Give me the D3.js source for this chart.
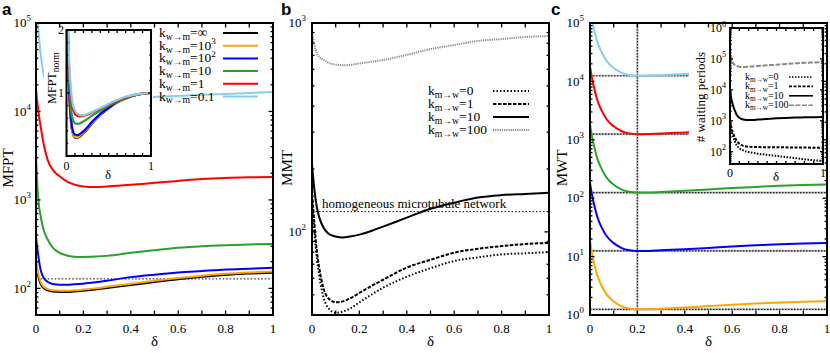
<!DOCTYPE html>
<html>
<head>
<meta charset="utf-8">
<script src="https://cdn.jsdelivr.net/npm/d3@7"></script>
<style>
  body { margin: 0; background: #fff; }
  svg { display: block; font-family: "Liberation Serif", "Times New Roman", serif; }
</style>
</head>
<body>
<svg id="fig" width="830" height="353"></svg>
<script>
// ---- data ----
var delta = [0, 0.01, 0.02, 0.03, 0.05, 0.07, 0.1, 0.13, 0.16, 0.2, 0.25, 0.3, 0.4, 0.5, 0.6, 0.7, 0.8, 0.9, 1]

// panel a: MFPT for k_w->m = inf, 10^3, 10^2, 10, 1, 0.1
var kwmLabels = [['\u221e', ''], ['10', '3'], ['10', '2'], ['10', ''], ['1', ''], ['0.1', '']]
var mfptInf = [190, 135, 112, 102, 95, 92, 91, 91, 92, 94, 97, 101, 109, 118, 127, 135, 142, 147, 150]
var mfpt1e3 = [210, 145, 118, 106, 98, 95, 94, 94, 95, 97, 100, 104, 113, 122, 131, 139, 146, 151, 155]
var mfpt1e2 = [380, 230, 160, 135, 118, 112, 110, 110, 111, 113, 117, 122, 134, 143, 151, 157, 163, 167, 171]
var mfpt10 = [3000, 1000, 650, 480, 355, 290, 252, 235, 228, 227, 229, 233, 252, 270, 288, 300, 308, 314, 318]
var mfpt1 = [18000, 10000, 6700, 4600, 2800, 2200, 1850, 1620, 1500, 1420, 1400, 1420, 1480, 1560, 1640, 1720, 1770, 1800, 1820]
var mfpt01 = [200000, 83000, 44000, 28000, 19000, 16000, 14500, 14000, 13800, 13700, 13800, 14000, 14300, 14600, 15000, 15400, 15800, 16200, 16600]
var mfptHomog = 128

// panel a inset: normalised MFPT
var normInf = [3.5, 2.2, 1.5, 1.05, 0.6, 0.38, 0.29, 0.29, 0.31, 0.36, 0.43, 0.51, 0.65, 0.76, 0.85, 0.91, 0.96, 0.99, 1]
var norm1e3 = [3.5, 2.2, 1.5, 1.05, 0.6, 0.39, 0.3, 0.3, 0.32, 0.37, 0.44, 0.52, 0.66, 0.77, 0.85, 0.91, 0.96, 0.99, 1]
var norm1e2 = [3.5, 2.3, 1.6, 1.1, 0.65, 0.43, 0.34, 0.33, 0.35, 0.39, 0.46, 0.54, 0.67, 0.77, 0.86, 0.92, 0.96, 0.99, 1]
var norm10 = [3.5, 2.4, 1.7, 1.25, 0.8, 0.6, 0.52, 0.51, 0.52, 0.55, 0.59, 0.64, 0.72, 0.8, 0.87, 0.92, 0.96, 0.99, 1]
var norm1 = [3.5, 2.6, 1.9, 1.45, 1.0, 0.78, 0.67, 0.64, 0.63, 0.64, 0.66, 0.69, 0.75, 0.82, 0.88, 0.93, 0.97, 0.99, 1]
var norm01 = [3.5, 2.7, 2.0, 1.55, 1.1, 0.85, 0.72, 0.67, 0.65, 0.65, 0.67, 0.7, 0.76, 0.83, 0.89, 0.94, 0.97, 0.99, 1]

// panel b: MMT for k_m->w = 0, 1, 10, 100
var kmwLabels = ['0', '1', '10', '100']
var mmt0 = [145, 100, 75, 62, 48, 43, 41, 41.5, 43, 46, 50, 54, 61, 67, 72.5, 75.5, 78, 79, 80]
var mmt1 = [160, 110, 82, 68, 53, 48, 46, 46.5, 48, 51, 55, 59, 67.5, 73.5, 79.5, 83, 85.5, 87.5, 88.5]
var mmt10 = [210, 160, 132, 118, 104, 98, 95, 94, 95, 97, 101, 106, 117, 129, 138, 146, 150, 152, 154]
var mmt100 = [900, 790, 720, 690, 665, 645, 632, 628, 630, 640, 652, 665, 703, 750, 785, 820, 838, 857, 866]
var mmtHomog = 125

// panel c: MWT for k_w->m = 10^3, 10^2, 10, 1, 0.1
var mwt1e3 = [18.5, 10.6, 7, 4.9, 3.1, 2.25, 1.7, 1.43, 1.3, 1.25, 1.25, 1.28, 1.34, 1.42, 1.5, 1.57, 1.63, 1.68, 1.72]
var mwt1e2 = [181, 106, 70, 49, 31, 22.5, 17, 14.3, 13, 12.5, 12.5, 12.8, 13.4, 14.1, 14.9, 15.6, 16.3, 16.8, 17.2]
var mwt10 = [1810, 1060, 700, 490, 312, 225, 170, 143, 130, 125, 125, 128, 134, 141, 149, 156, 163, 168, 172]
var mwt1 = [18100, 10600, 7000, 4900, 3120, 2250, 1700, 1430, 1300, 1250, 1260, 1280, 1340, 1400, 1460, 1520, 1580, 1630, 1680]
var mwt01 = [181000, 106000, 70000, 49000, 31200, 22500, 17000, 14300, 13000, 12500, 12600, 12800, 13400, 14100, 14900, 15600, 16300, 16800, 17200]
var mwtHomog = [1.25, 12.5, 125, 1250, 12500]
var deltaMark = 0.2

// panel c inset: number of waiting periods for k_m->w = 0, 1, 10, 100
var wait0 = [800, 560, 420, 330, 220, 165, 130, 115, 105, 98, 91, 86, 79, 73, 67, 62, 57, 53, 50]
var wait1 = [1000, 700, 520, 420, 300, 230, 180, 160, 150, 145, 142, 141, 140, 139, 138, 137, 136, 135, 134]
var wait10 = [9000, 6000, 4300, 3300, 2200, 1600, 1250, 1120, 1070, 1050, 1060, 1090, 1150, 1200, 1240, 1270, 1290, 1310, 1320]
var wait100 = [350000, 130000, 90000, 75000, 65000, 60000, 56000, 55000, 55000, 56000, 57000, 59000, 62000, 65000, 69000, 72000, 75000, 77000, 79000]

var xTickVals = d3.range(0, 1.0001, 0.1)
var xLabelVals = [0, 0.2, 0.4, 0.6, 0.8, 1]

// ---- styles ----
var kColors = ['#000000', '#ffa500', '#0000ff', '#2ca02c', '#ff0000', '#87ceeb']
var kmwStyles = [
  { color: '#000', dash: '1.5,2' },
  { color: '#000', dash: '3.5,1.5' },
  { color: '#000', dash: null },
  { color: '#8a8a8a', dash: '1.2,1' }
]
var waitStyles = [
  { color: '#000', dash: '1.5,1.5' },
  { color: '#000', dash: '3,1.5' },
  { color: '#000', dash: null },
  { color: '#8a8a8a', dash: '5,1.5' }
]

var svg = d3.select('#fig')
var clipN = 0

function makePanel (p) {
  var x = d3.scaleLinear().domain([0, 1]).range([p.left, p.right])
  var y = (p.log ? d3.scaleLog() : d3.scaleLinear()).domain(p.yDomain).range([p.bottom, p.top])
  var id = 'clip' + (clipN++)
  svg.append('clipPath').attr('id', id).append('rect')
    .attr('x', p.left).attr('y', p.top)
    .attr('width', p.right - p.left).attr('height', p.bottom - p.top)
  var g = svg.append('g')
  var plot = g.append('g').attr('clip-path', 'url(#' + id + ')')
  return { p: p, x: x, y: y, g: g, plot: plot }
}

function drawCurve (pn, values, style) {
  var line = d3.line()
    .x(function (d, i) { return pn.x(delta[i]) })
    .y(function (d) { return pn.y(d) })
    .curve(d3.curveMonotoneX)
  pn.plot.append('path').datum(values)
    .attr('d', line)
    .attr('fill', 'none')
    .attr('stroke', style.color)
    .attr('stroke-width', style.width || 2)
    .attr('stroke-dasharray', style.dash || null)
    .attr('stroke-linejoin', 'round')
}

function hLine (pn, v, x0, style) {
  pn.plot.append('line')
    .attr('x1', pn.x(x0)).attr('x2', pn.x(1))
    .attr('y1', pn.y(v)).attr('y2', pn.y(v))
    .attr('stroke', style.color).attr('stroke-width', style.width)
    .attr('stroke-dasharray', style.dash)
}

function logTicks (lo, hi) {
  var out = []
  for (var e = Math.floor(Math.log10(lo)); e <= Math.ceil(Math.log10(hi)); e++) {
    for (var m = 1; m < 10; m++) {
      var v = m * Math.pow(10, e)
      if (v >= lo * 0.999 && v <= hi * 1.001) out.push({ v: v, major: m === 1 })
    }
  }
  return out
}

function drawFrame (pn, yTicks, len) {
  var p = pn.p
  var g = svg.append('g')
  var t = g.append('g').attr('stroke', '#000').attr('stroke-width', 1.3)
  xTickVals.forEach(function (v) {
    var xx = pn.x(v)
    t.append('line').attr('x1', xx).attr('x2', xx).attr('y1', p.bottom).attr('y2', p.bottom - len)
    t.append('line').attr('x1', xx).attr('x2', xx).attr('y1', p.top).attr('y2', p.top + len)
  })
  yTicks.forEach(function (d) {
    var yy = pn.y(d.v)
    var l = d.major ? len : len * 0.55
    t.append('line').attr('x1', p.left).attr('x2', p.left + l).attr('y1', yy).attr('y2', yy)
    t.append('line').attr('x1', p.right).attr('x2', p.right - l).attr('y1', yy).attr('y2', yy)
  })
  g.append('rect')
    .attr('x', p.left).attr('y', p.top)
    .attr('width', p.right - p.left).attr('height', p.bottom - p.top)
    .attr('fill', 'none').attr('stroke', '#000').attr('stroke-width', 2)
  return g
}

function powLabel (sel, x, y, exp, size) {
  var t = sel.append('text').attr('x', x).attr('y', y + size * 0.33)
    .attr('font-size', size).attr('text-anchor', 'end')
  t.append('tspan').text('10')
  t.append('tspan').attr('dy', -size * 0.45).attr('font-size', size * 0.68).text(exp)
}

function kLabel (sel, x, y, sub, val, sup, size) {
  var t = sel.append('text').attr('x', x).attr('y', y).attr('font-size', size)
  t.append('tspan').text('k')
  t.append('tspan').attr('font-size', size * 0.72).attr('dy', size * 0.22).text(sub)
  t.append('tspan').attr('dy', -size * 0.22).text('=' + val)
  if (sup) t.append('tspan').attr('font-size', size * 0.68).attr('dy', -size * 0.42).text(sup)
}

function xLabels (pn, y, size) {
  xLabelVals.forEach(function (v) {
    svg.append('text').attr('x', pn.x(v)).attr('y', y)
      .attr('font-size', size).attr('text-anchor', 'middle').text(String(v))
  })
}

function axisTitle (x, y, txt, rotate) {
  svg.append('text')
    .attr('transform', 'translate(' + x + ',' + y + ')' + (rotate ? ' rotate(-90)' : ''))
    .attr('text-anchor', 'middle').attr('font-size', 15).text(txt)
}

function panelLetter (x, txt) {
  svg.append('text').attr('x', x).attr('y', 15)
    .attr('font-family', '"Liberation Sans", Arial, sans-serif')
    .attr('font-weight', 'bold').attr('font-size', 17).text(txt)
}

// =========== panel a ===========
var A = makePanel({ left: 36, right: 273, top: 23, bottom: 315, log: true, yDomain: [50, 1e5] })
hLine(A, mfptHomog, 0.02, { color: '#000', width: 1, dash: '1.5,2' })
;[mfptInf, mfpt1e3, mfpt1e2, mfpt10, mfpt1, mfpt01].forEach(function (s, i) {
  drawCurve(A, s, { color: kColors[i], width: 2 })
})

svg.append('rect').attr('x', 44).attr('y', 24).attr('width', 109).attr('height', 111).attr('fill', '#fff')
var Ai = makePanel({ left: 66.5, right: 151, top: 30, bottom: 156, log: false, yDomain: [0, 2] })
;[normInf, norm1e3, norm1e2, norm10, norm1, norm01].forEach(function (s, i) {
  drawCurve(Ai, s, { color: kColors[i], width: 2.2 })
})
drawFrame(Ai, d3.range(0, 2.001, 0.2).map(function (v) { return { v: v, major: Math.abs(v - Math.round(v)) < 1e-6 } }), 3)
;[1, 2].forEach(function (v) {
  svg.append('text').attr('x', 64).attr('y', Ai.y(v) + 4).attr('font-size', 12)
    .attr('text-anchor', 'end').text(String(v))
})
;[0, 1].forEach(function (v) {
  svg.append('text').attr('x', Ai.x(v)).attr('y', 170).attr('font-size', 12)
    .attr('text-anchor', 'middle').text(String(v))
})
svg.append('text').attr('x', 108).attr('y', 179).attr('font-size', 13).attr('text-anchor', 'middle').text('\u03b4')
var nl = svg.append('text').attr('transform', 'translate(56,78) rotate(-90)')
  .attr('text-anchor', 'middle').attr('font-size', 12)
nl.append('tspan').text('MFPT')
nl.append('tspan').attr('dy', 3).attr('font-size', 9.5).text('norm')

drawFrame(A, logTicks(50, 1e5), 4.5)
powLabel(svg, 31, A.y(1e2), '2', 13)
powLabel(svg, 31, A.y(1e3), '3', 13)
powLabel(svg, 31, A.y(1e4), '4', 13)
powLabel(svg, 31, A.y(1e5), '5', 13)
xLabels(A, 333, 13)

kwmLabels.forEach(function (lab, i) {
  var by = 37 + i * 12.7
  kLabel(svg, 159, by, 'w\u2192m', lab[0], lab[1], 13.5)
  svg.append('line').attr('x1', 223).attr('x2', 258).attr('y1', by - 4).attr('y2', by - 4)
    .attr('stroke', kColors[i]).attr('stroke-width', 2)
})
axisTitle(13, 168, 'MFPT', true)
axisTitle(A.x(0.5), 346, '\u03b4', false)
panelLetter(2, 'a')

// =========== panel b ===========
var B = makePanel({ left: 312, right: 549, top: 23, bottom: 315, log: true, yDomain: [40, 1000] })
hLine(B, mmtHomog, 0.015, { color: '#000', width: 1, dash: '1.5,2' })
;[mmt0, mmt1, mmt10, mmt100].forEach(function (s, i) {
  drawCurve(B, s, { color: kmwStyles[i].color, dash: kmwStyles[i].dash, width: 2 })
})
svg.append('text').attr('x', 322).attr('y', 208).attr('font-size', 13).text('homogeneous microtubule network')
drawFrame(B, logTicks(40, 1000), 4.5)
powLabel(svg, 306, B.y(1e2), '2', 13)
powLabel(svg, 306, B.y(1e3), '3', 13)
xLabels(B, 333, 13)
kmwLabels.forEach(function (lab, i) {
  var ly = 91 + i * 13
  kLabel(svg, 428, ly + 4, 'm\u2192w', lab, '', 13.5)
  svg.append('line').attr('x1', 493).attr('x2', 529).attr('y1', ly).attr('y2', ly)
    .attr('stroke', kmwStyles[i].color).attr('stroke-width', 2)
    .attr('stroke-dasharray', kmwStyles[i].dash)
})
axisTitle(292, 168, 'MMT', true)
axisTitle(B.x(0.5), 346, '\u03b4', false)
panelLetter(281, 'b')

// =========== panel c ===========
var C = makePanel({ left: 590, right: 827, top: 23, bottom: 315, log: true, yDomain: [1, 1e5] })
C.plot.append('line').attr('x1', C.x(deltaMark)).attr('x2', C.x(deltaMark))
  .attr('y1', 23).attr('y2', 315).attr('stroke', '#bbb').attr('stroke-width', 2.2)
C.plot.append('line').attr('x1', C.x(deltaMark)).attr('x2', C.x(deltaMark))
  .attr('y1', 23).attr('y2', 315).attr('stroke', '#333').attr('stroke-width', 1.2).attr('stroke-dasharray', '1.5,1.5')
mwtHomog.forEach(function (v) {
  hLine(C, v, 0, { color: '#bbb', width: 2.2, dash: null })
  hLine(C, v, 0, { color: '#222', width: 1.2, dash: '1.5,1.5' })
})
;[null, mwt1e3, mwt1e2, mwt10, mwt1, mwt01].forEach(function (s, i) {
  if (s) drawCurve(C, s, { color: kColors[i], width: 2 })
})

svg.append('rect').attr('x', 689).attr('y', 24).attr('width', 137).attr('height', 157).attr('fill', '#fff')
var Ci = makePanel({ left: 730, right: 823, top: 28, bottom: 164, log: true, yDomain: [40, 1e6] })
;[wait0, wait1, wait10, wait100].forEach(function (s, i) {
  drawCurve(Ci, s, { color: waitStyles[i].color, dash: waitStyles[i].dash, width: 2 })
})
drawFrame(Ci, logTicks(40, 1e6), 3)
;[2, 3, 4, 5, 6].forEach(function (e) {
  powLabel(svg, 726, Ci.y(Math.pow(10, e)), String(e), 12)
})
;[0, 1].forEach(function (v) {
  svg.append('text').attr('x', Ci.x(v)).attr('y', 177).attr('font-size', 12)
    .attr('text-anchor', 'middle').text(String(v))
})
svg.append('text').attr('x', 776).attr('y', 181).attr('font-size', 13).attr('text-anchor', 'middle').text('\u03b4')
svg.append('text').attr('transform', 'translate(705,97) rotate(-90)')
  .attr('text-anchor', 'middle').attr('font-size', 13).text('# waiting periods')
kmwLabels.forEach(function (lab, i) {
  var ly = 77 + i * 9.4
  kLabel(svg, 745, ly + 3, 'm\u2192w', lab, '', 10)
  svg.append('line').attr('x1', 789).attr('x2', 813).attr('y1', ly).attr('y2', ly)
    .attr('stroke', waitStyles[i].color).attr('stroke-width', 1.6)
    .attr('stroke-dasharray', waitStyles[i].dash)
})

drawFrame(C, logTicks(1, 1e5), 4.5)
;[0, 1, 2, 3, 4, 5].forEach(function (e) {
  powLabel(svg, 584, C.y(Math.pow(10, e)), String(e), 13)
})
xLabels(C, 333, 13)
axisTitle(567, 168, 'MWT', true)
axisTitle(C.x(0.5), 346, '\u03b4', false)
panelLetter(551, 'c')
</script>
</body>
</html>
